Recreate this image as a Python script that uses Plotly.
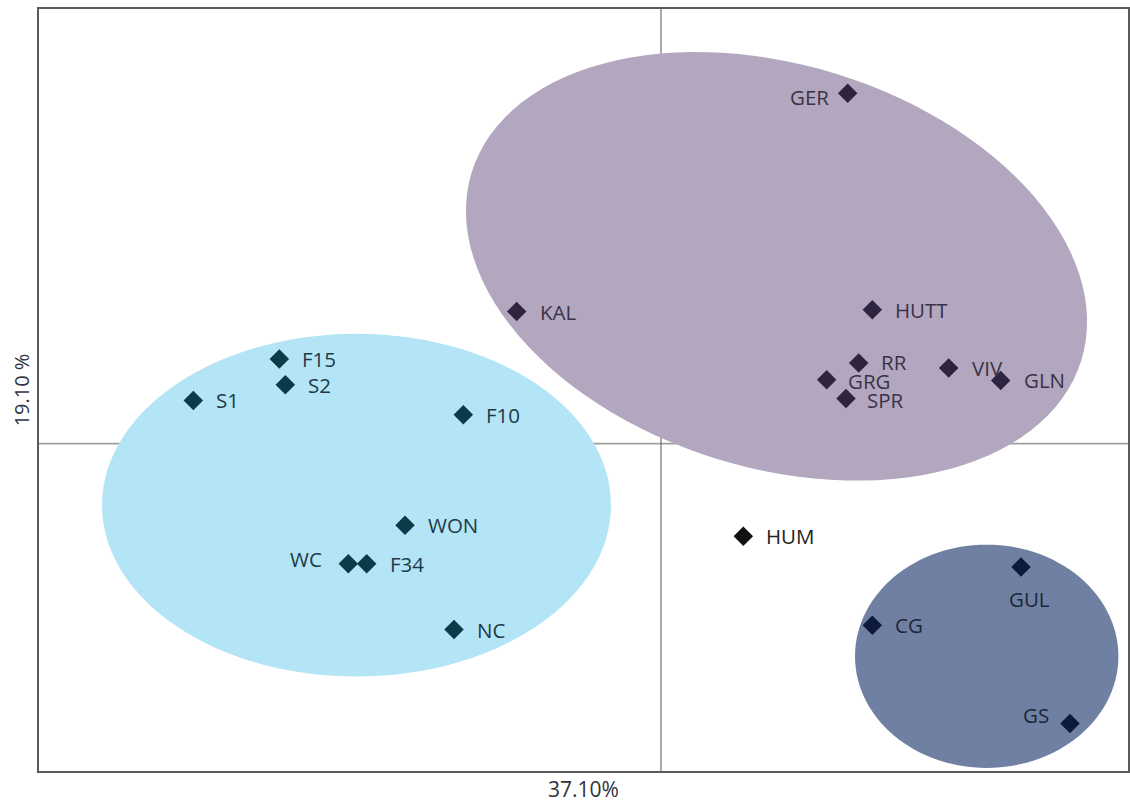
import numpy as np
import plotly.graph_objects as go

# PCA scores (PC1 = 37.10 %, PC2 = 19.10 %)
sites = ["GER", "KAL", "HUTT", "RR", "GRG", "SPR", "VIV", "GLN",
         "F15", "S2", "S1", "F10", "WON", "WC", "F34", "NC",
         "HUM", "GUL", "CG", "GS"]
pc1 = [1.867, -1.443, 2.113, 1.977, 1.657, 1.850, 2.877, 3.397,
       -3.817, -3.757, -4.677, -1.977, -2.560, -3.127, -2.943, -2.070,
       0.823, 3.600, 2.113, 4.090]
pc2 = [3.507, 1.323, 1.340, 0.807, 0.640, 0.453, 0.757, 0.633,
       0.847, 0.590, 0.433, 0.290, -0.817, -1.200, -1.200, -1.860,
       -0.927, -1.233, -1.817, -2.800]
cluster = ["B", "B", "B", "B", "B", "B", "B", "B",
           "A", "A", "A", "A", "A", "A", "A", "A",
           "N", "C", "C", "C"]

x_title = "37.10%"
y_title = "19.10 %"

# cluster envelopes: centre x, centre y, semi-axis a, semi-axis b, tilt (deg)
env_A = (-3.045, -0.615, 2.545, 1.715, 0.0)
env_B = (1.155, 1.775, 3.19, 2.017, -17.15)
env_C = (3.257, -2.127, 1.317, 1.117, 0.0)

styles = {
    "A": dict(fill="#b3e5f6", marker="#0b3a49", text="#1e3a46"),
    "B": dict(fill="#b3a7c0", marker="#2f2440", text="#3a3346"),
    "C": dict(fill="#6f80a3", marker="#0d1a3a", text="#1d2638"),
    "N": dict(fill=None, marker="#111111", text="#222222"),
}

# label placement: (xanchor, xshift, yshift) in pixels
label_pos = {name: ("left", 22, 0) for name in sites}
label_pos.update({
    "GER": ("right", -18, -4),
    "WC": ("right", -25, 5),
    "GS": ("right", -20, 9),
    "GUL": ("center", 8, -32),
    "RR": ("left", 21, 1),
    "GRG": ("left", 20, -1),
    "SPR": ("left", 20, -2),
})

X_RANGE = [-6.22, 4.67]
Y_RANGE = [-3.275, 4.35]
LABEL_FONT = dict(family="Open Sans", size=20.5)


def ellipse_path(cx, cy, a, b, tilt, n=120):
    t = np.linspace(0, 2 * np.pi, n, endpoint=False)
    th = np.deg2rad(tilt)
    ex = a * np.cos(t)
    ey = b * np.sin(t)
    px = cx + ex * np.cos(th) - ey * np.sin(th)
    py = cy + ex * np.sin(th) + ey * np.cos(th)
    pts = [f"{x:.4f},{y:.4f}" for x, y in zip(px, py)]
    return "M " + " L ".join(pts) + " Z"


fig = go.Figure()

shapes = []
for env, key in [(env_A, "A"), (env_B, "B"), (env_C, "C")]:
    shapes.append(dict(type="path", path=ellipse_path(*env), xref="x", yref="y",
                       fillcolor=styles[key]["fill"], line=dict(width=0),
                       layer="below"))

# reference cross through the origin
cross = dict(color="rgba(100,100,100,0.62)", width=1.8)
shapes.append(dict(type="line", xref="x", yref="paper", x0=0, x1=0, y0=0, y1=1,
                   line=cross, layer="below"))
shapes.append(dict(type="line", xref="paper", yref="y", x0=0, x1=1, y0=0, y1=0,
                   line=cross, layer="below"))

for key in ["A", "B", "C", "N"]:
    idx = [i for i, c in enumerate(cluster) if c == key]
    fig.add_trace(go.Scatter(
        x=[pc1[i] for i in idx], y=[pc2[i] for i in idx],
        mode="markers", name=key, hoverinfo="text",
        text=[sites[i] for i in idx],
        marker=dict(symbol="diamond", size=15, color=styles[key]["marker"],
                    line=dict(width=0)),
    ))

annotations = []
for name, x, y, c in zip(sites, pc1, pc2, cluster):
    xa, xs, ys = label_pos[name]
    annotations.append(dict(x=x, y=y, xref="x", yref="y", text=name,
                            showarrow=False, xanchor=xa, yanchor="middle",
                            xshift=xs, yshift=ys, borderpad=0,
                            font=dict(LABEL_FONT, color=styles[c]["text"])))

fig.update_layout(
    width=1130, height=803,
    margin=dict(l=39, r=2, t=9, b=32),
    paper_bgcolor="white", plot_bgcolor="white",
    showlegend=False,
    shapes=shapes,
    annotations=annotations,
    font=dict(family="Open Sans", color="#333333"),
)
fig.update_xaxes(range=X_RANGE, showgrid=False, zeroline=False,
                 showticklabels=False, ticks="", showline=True, mirror=True,
                 linecolor="#5a5a5a", linewidth=2,
                 title=dict(text=x_title, standoff=12,
                            font=dict(family="Open Sans", size=21, color="#2e3440")),
                 automargin=False)
fig.update_yaxes(range=Y_RANGE, showgrid=False, zeroline=False,
                 showticklabels=False, ticks="", showline=True, mirror=True,
                 linecolor="#5a5a5a", linewidth=2,
                 title=dict(text=y_title, standoff=2,
                            font=dict(family="Open Sans", size=20, color="#2e3440")),
                 automargin=False)

fig.write_html("out.html")
